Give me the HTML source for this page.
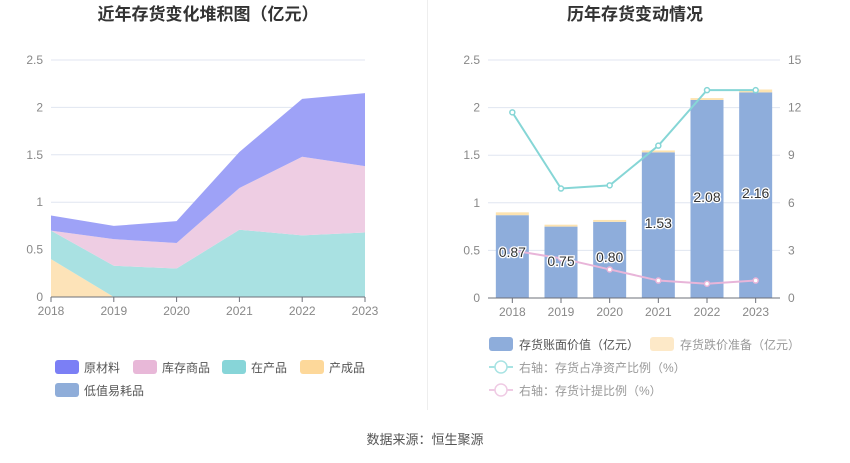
<!DOCTYPE html>
<html><head><meta charset="utf-8"><style>
body{margin:0;background:#fff;width:850px;height:458px;overflow:hidden;font-family:"Liberation Sans","Noto Sans CJK SC",sans-serif;}
svg text{font-family:"Liberation Sans","Noto Sans CJK SC",sans-serif;}
</style></head><body>
<svg id="c" width="850" height="458" xmlns="http://www.w3.org/2000/svg">
<text x="208" y="20" text-anchor="middle" font-size="17" font-weight="bold" fill="#333">近年存货变化堆积图（亿元）</text>
<text x="635" y="20" text-anchor="middle" font-size="17" font-weight="bold" fill="#333">历年存货变动情况</text>
<line x1="427.5" y1="0" x2="427.5" y2="410" stroke="#eee"/>
<text x="425" y="444" text-anchor="middle" font-size="13" fill="#555">数据来源：恒生聚源</text>
<g id="L"></g><g id="R"></g>
</svg>
<script>
const years=["2018","2019","2020","2021","2022","2023"];
const chengpin=[0.40,0,0,0,0,0];
const zaichan=[0.30,0.33,0.30,0.71,0.65,0.68];
const kucun=[0,0.28,0.27,0.44,0.83,0.70];
const yuancai=[0.16,0.14,0.23,0.38,0.61,0.77];
const leftTicks=["0","0.5","1","1.5","2","2.5"];
const bookVal=[0.87,0.75,0.80,1.53,2.08,2.16];
const reserve=[0.03,0.02,0.02,0.02,0.02,0.03];
const netRatio=[11.7,6.9,7.1,9.6,13.1,13.1];
const provRatio=[3.0,2.5,1.8,1.1,0.9,1.1];
const rightTicks=["0","3","6","9","12","15"];
const NS="http://www.w3.org/2000/svg";
function mk(p,t,a){const e=document.createElementNS(NS,t);for(const k in a)e.setAttribute(k,a[k]);p.appendChild(e);return e;}
// left chart
const L=document.getElementById('L');
const lx=i=>51+i*(314/5), ly=v=>297-v*(237/2.5);
leftTicks.forEach((t,i)=>{const v=i*0.5;
 if(i>0){const g=mk(L,'line',{x1:51,x2:365,y1:ly(v),y2:ly(v),stroke:'#e0e6f1'});}
 const tx=mk(L,'text',{x:43,y:ly(v)+4,'text-anchor':'end','font-size':12,fill:'#888'});tx.textContent=t;
 });
const series=[[chengpin,'#fde3b8','finished-goods-area'],[zaichan,'#a9e1e2','wip-area'],[kucun,'#eecde3','merchandise-area'],[yuancai,'#9ea2f7','raw-material-area']];
let base=[0,0,0,0,0,0];
series.forEach(([d,c,n])=>{const top=base.map((b,i)=>b+d[i]);
 let p='M'+years.map((_,i)=>lx(i)+','+ly(top[i])).join('L');
 for(let i=5;i>=0;i--)p+='L'+lx(i)+','+ly(base[i]);p+='Z';
 const e=mk(L,'path',{d:p,fill:c});base=top;});
mk(L,'line',{x1:51,x2:365,y1:297,y2:297,stroke:'#6e7079'});
years.forEach((y,i)=>{mk(L,'line',{x1:lx(i),x2:lx(i),y1:297,y2:302,stroke:'#6e7079'});
 const t=mk(L,'text',{x:lx(i),y:315,'text-anchor':'middle','font-size':12,fill:'#888'});t.textContent=y;
 });
const leg=[['原材料','#7b7ff5',55,367],['库存商品','#e8b8d8',133,367],['在产品','#87d5d8',222,367],['产成品','#fdd89a',300,367],['低值易耗品','#8fadd9',55,390]];
leg.forEach(([n,c,x,y])=>{const g=mk(L,'g',{});
 mk(g,'rect',{x:x,y:y-7,width:24,height:14,rx:3,fill:c});
 const t=mk(g,'text',{x:x+29,y:y+5,'font-size':12,fill:'#555'});t.textContent=n;});
// right chart
const R=document.getElementById('R');
const x0=488,x1=780,bw=(x1-x0)/6;
const rx=i=>x0+bw*(i+0.5), ry=v=>298-v*(238/2.5), ry2=v=>298-v*(238/15);
leftTicks.forEach((t,i)=>{const v=i*0.5;
 if(i>0){const g=mk(R,'line',{x1:x0,x2:x1,y1:ry(v),y2:ry(v),stroke:'#e0e6f1'});}
 const tx=mk(R,'text',{x:480,y:ry(v)+4,'text-anchor':'end','font-size':12,fill:'#888'});tx.textContent=t;
 
 const t2=mk(R,'text',{x:788,y:ry(v)+4,'font-size':12,fill:'#888'});t2.textContent=rightTicks[i];
 });
years.forEach((y,i)=>{const w=33,x=rx(i)-w/2;
 const b=mk(R,'rect',{x:x,y:ry(bookVal[i]),width:w,height:298-ry(bookVal[i]),fill:'#8eaddb'});
 
 const r=mk(R,'rect',{x:x,y:ry(bookVal[i]+reserve[i]),width:w,height:ry(bookVal[i])-ry(bookVal[i]+reserve[i]),fill:'#fde3b0'});
 
 mk(R,'line',{x1:rx(i),x2:rx(i),y1:298,y2:303,stroke:'#6e7079'});
 const t=mk(R,'text',{x:rx(i),y:316,'text-anchor':'middle','font-size':12,fill:'#888'});t.textContent=y;
 });
mk(R,'line',{x1:x0,x2:x1,y1:298,y2:298,stroke:'#6e7079'});
[[netRatio,'#86d6d6','net-asset-ratio-line'],[provRatio,'#e8b5d9','provision-ratio-line']].forEach(([d,c,n])=>{
 const l=mk(R,'polyline',{points:d.map((v,i)=>rx(i)+','+ry2(v)).join(' '),fill:'none',stroke:c,'stroke-width':2});
 
 d.forEach((v,i)=>{const p=mk(R,'circle',{cx:rx(i),cy:ry2(v),r:2.5,fill:'#fff',stroke:c,'stroke-width':1.5});
  });});
bookVal.forEach((v,i)=>{const yy=i<3?ry(v)+44:ry(v)+25;
 const t=mk(R,'text',{x:rx(i),y:i<3?[257,266,262][i]:[228,202,198][i-3],'text-anchor':'middle','font-size':14,fill:'#333',stroke:'#fff','stroke-width':2.5,'paint-order':'stroke'});
 t.textContent=v.toFixed(2);});
const rl=[['存货账面价值（亿元）',489,344,'rect','#8eaddb'],['存货跌价准备（亿元）',650,344,'rect','#fde9c8'],['右轴：存货占净资产比例（%）',489,367,'line','#a8e3e3'],['右轴：存货计提比例（%）',489,390,'line','#efcbe4']];
rl.forEach(([n,x,y,k,c])=>{const g=mk(R,'g',{});
 if(k==='rect')mk(g,'rect',{x:x,y:y-7,width:24,height:14,rx:3,fill:c});
 else{mk(g,'line',{x1:x,x2:x+24,y1:y,y2:y,stroke:c,'stroke-width':2});mk(g,'circle',{cx:x+12,cy:y,r:6,fill:'#fff',stroke:c,'stroke-width':1.5});}
 const t=mk(g,'text',{x:x+30,y:y+5,'font-size':12,fill:k==='rect'&&x<600?'#555':'#999'});t.textContent=n;});
</script>
</body></html>
